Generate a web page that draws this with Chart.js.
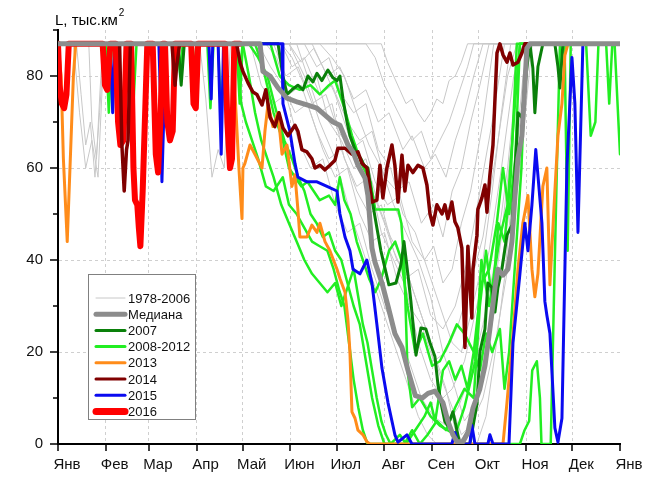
<!DOCTYPE html>
<html>
<head>
    <meta charset="utf-8">
    <title>L, тыс.км2</title>
    <script src="https://cdn.jsdelivr.net/npm/chart.js@4.4.6/dist/chart.umd.min.js"></script>
    <style>
        body { margin: 0; background: #fff; }
        #wrap { width: 659px; height: 478px; position: relative; }
    </style>
</head>
<body>
    <div id="wrap"><canvas id="myChart"></canvas></div>
    <script>
        // x axis: day of year, ticks at month starts
        const monthDays = [0, 31, 59, 90, 120, 151, 181, 212, 243, 273, 304, 334, 365]
        const monthNames = ["Янв", "Фев", "Мар", "Апр", "Май", "Июн", "Июл", "Авг", "Сен", "Окт", "Ноя", "Дек", "Янв"]
        const yLabels = [0, 20, 40, 60, 80]

        const red2016Days = [0, 1, 2.5, 4, 5.5, 7, 29, 30.5, 32, 34, 37.5, 39, 40.5, 42.5, 44.5, 47.5, 49, 50, 51.5, 52.5, 53.5, 55, 58, 61.5, 63.5, 65, 66.5, 68, 69.5, 71, 72.7, 74.5, 76, 86.5, 88, 89.5, 91, 108.5, 110, 111.7, 113, 114.5, 118]
        const red2016Vals = [87, 78, 74, 73, 76, 87, 87, 78, 77, 87, 87, 70, 65, 66, 87, 87, 60, 53, 52, 47, 43, 55, 87, 87, 63, 59, 70, 87, 87, 70, 66, 68, 87, 87, 74, 73, 87, 87, 70, 60, 62, 87, 87]

        const blue2015Days = [0, 34, 35.5, 37, 65.5, 66.5, 67.5, 69, 70, 98, 99.5, 100.5, 104, 106, 107.5, 145.5, 146.1, 150.6, 153.9, 155.8, 161.7, 168.2, 174.7, 181.2, 183.1, 186.4, 189.6, 191.6, 196.1, 200.6, 203.9, 207.1, 210.4, 214.3, 218.8, 220.8, 226.6, 229.9, 255.8, 257.8, 259.7, 267.5, 268.8, 270.8, 279.2, 280.5, 282.5, 292.9, 295.5, 300, 303.2, 305.2, 307.8, 310.3, 314.3, 316.2, 317.5, 319.5, 322.7, 324.7, 327.3, 330.5, 333.8, 335.7, 337.7, 340.9, 365]
        const blue2015Vals = [87, 87, 72, 87, 87, 76, 57, 75, 87, 87, 75, 87, 87, 63, 87, 87, 74, 68, 61, 58, 57, 57, 56, 55, 50, 45, 42, 38, 37, 40, 35, 26, 16.5, 9, 2, 0.4, 2, 0, 0, 2.5, 0, 0, 4, 0, 0, 2, 0, 0, 22, 37, 48, 42, 52, 64, 48, 31, 28, 24, 3.5, 0.4, 5.6, 60, 84, 74, 46, 87, 87]

        const orange2013Days = [0, 2, 3.5, 6, 8, 10, 11.5, 114, 115, 117.5, 119.5, 120.1, 121.4, 124.7, 127.9, 132.5, 134.4, 136.4, 139.6, 142.9, 145.5, 148.7, 151.9, 153.9, 155.8, 157.1, 161.7, 164.9, 168.2, 170.1, 173.4, 176.6, 181.2, 183.1, 186.4, 188.3, 189.6, 190.9, 192.9, 194.8, 198.1, 200.6, 202.6, 289, 291.6, 295.5, 298.7, 301.9, 304.5, 305.2, 307.8, 309.7, 311.7, 314.9, 317.5, 319.5, 322.7, 324.7, 327.3, 329.2, 331.2, 365]
        const orange2013Vals = [87, 80, 62, 44, 62, 80, 87, 87, 76, 60, 49, 60, 61, 65, 63, 60, 68, 74, 69, 72, 63, 65, 56, 58.5, 51, 45, 45, 47.6, 46, 48, 44, 42, 38, 36, 33, 27, 20, 7, 5.6, 3, 2, 0.5, 0, 0, 9, 23.7, 38, 48, 52.6, 54, 38, 32, 37, 56, 60, 34.6, 55, 67, 74, 84.5, 87, 87]

        const brown2014Days = [0, 40, 41.5, 43, 44.5, 45.5, 47, 74, 76, 77, 79, 116, 118.2, 120.1, 123.4, 126.6, 129.2, 132.5, 135, 137.7, 140.9, 143.5, 146.1, 149.4, 153.9, 155.8, 158.4, 161.7, 164.9, 166.9, 170.1, 173.4, 176.6, 179.9, 181.8, 186.4, 190.9, 194.8, 197.4, 200.6, 203.9, 207.1, 209.1, 211, 213.6, 216.9, 218.8, 220.8, 223.4, 225.3, 227.3, 230.5, 233.8, 237, 239.6, 241.6, 243.5, 246.1, 249.4, 251.3, 253.2, 255.8, 257.8, 259.7, 262.3, 264.3, 266.2, 267.5, 268.8, 269.5, 272.1, 272.7, 275.3, 277.3, 278.6, 280.5, 282.5, 285.1, 287, 289, 291.6, 293.5, 295.5, 298.7, 301.3, 303.2, 365]
        const brown2014Vals = [87, 87, 65, 55, 64, 66, 87, 87, 78, 82, 87, 87, 83, 81, 78.5, 76.5, 76, 73.7, 77, 71, 69, 72, 68.7, 67, 69.3, 68, 64, 63.5, 62, 60, 60.6, 59.6, 60.6, 61.7, 64.3, 64.3, 63, 63.5, 61, 60, 52.6, 53, 60.6, 53.5, 60, 65, 60.6, 52.6, 62.8, 55, 60.6, 59, 60.6, 60, 56.3, 50, 47.6, 52, 50, 52, 49, 52.6, 48.3, 47, 42.6, 21, 43, 34.6, 27.4, 38, 45.4, 51, 53.5, 56.3, 50.4, 58.5, 65, 85, 87, 84.6, 83, 85, 82.4, 83, 85, 87, 87]

        const dkgreen2007Days = [0, 78, 80, 82, 142.9, 146.1, 148.7, 151.9, 155.8, 159.1, 162.3, 165.6, 168.2, 171.4, 173.4, 175.3, 178.6, 181.2, 183.1, 185.1, 187.7, 189.6, 193.5, 196.8, 198.7, 201.3, 204.5, 209.7, 214.9, 219.5, 222.7, 224.7, 227.3, 229.2, 232.5, 235.7, 238.9, 241.6, 244.8, 246.8, 248.7, 251.3, 253.2, 256.5, 261, 267.5, 272.1, 274, 277.3, 279.2, 281.8, 283.8, 285.7, 288.3, 291.6, 294.8, 298.1, 298.7, 301.3, 304.5, 306.5, 308.4, 309.7, 311.7, 314.9, 322.7, 324.7, 326, 327.9, 365]
        const dkgreen2007Vals = [87, 87, 78, 87, 87, 80, 76, 77, 78, 77, 80, 78.7, 80.6, 79, 80.2, 81.3, 79.6, 79, 80, 75, 70, 67, 63.5, 62, 60.6, 60, 52, 42, 34.6, 35, 39, 44, 36.7, 31, 19.3, 25.2, 25, 22, 19, 12.8, 9, 4.8, 4, 7, 0, 0, 8.7, 20, 25, 35, 34, 28.7, 34, 38, 45.4, 47.6, 67, 72, 71, 81.7, 87, 81.7, 72, 82, 87, 87, 82, 77.4, 87, 87]

        const medianDays = [0, 131.2, 133.1, 137.7, 142.9, 148.7, 155.8, 161.7, 168.2, 173.4, 178.6, 183.1, 188.3, 191.6, 194.8, 199.4, 201.3, 202.6, 203.9, 205.8, 210.4, 214.3, 218.8, 223.4, 227.3, 232.1, 236.6, 240.3, 244.8, 250, 253.2, 256.5, 259.1, 263, 266.2, 269.5, 274, 277.3, 280.5, 283.8, 285.7, 289, 292.2, 294.8, 296.8, 298.7, 301.3, 303.2, 304.5, 306.5, 365]
        const medianVals = [87, 87, 81, 80, 77.4, 75.2, 74.3, 73.7, 73, 71.5, 70, 69.3, 65, 63.5, 60.6, 57.8, 54, 48.3, 42.6, 39.6, 35, 30, 24, 21, 16, 10.5, 10, 11, 11.5, 9, 5, 2, 0.5, 0.5, 2.5, 7.8, 12, 17, 25, 34, 38, 36.7, 38, 44, 54, 62, 67, 78, 86, 87, 87]

        // 2008-2012
        const greenDays = [
            [0, 31, 33, 35, 78, 79.5, 81, 97, 99, 101, 116, 118, 120, 138, 144, 150, 157, 164, 170, 176, 180, 186, 191, 197, 203, 206, 214, 221, 223, 225, 227, 230, 235, 242, 248, 258, 264, 271, 275, 280, 287, 292, 297, 300, 365],
            [0, 47, 49, 51, 115, 118, 120, 128, 133, 140, 146, 150, 154, 158, 162, 166, 170, 176, 180, 183, 186, 190, 194, 198, 202, 206, 210, 215, 219, 223, 227, 232, 237, 243, 248, 254, 259, 264, 270, 275, 280, 285, 289, 293, 297, 300, 365],
            [0, 116, 119, 122, 126, 130, 135, 140, 146, 150, 155, 160, 165, 170, 175, 179, 183, 186, 189, 192, 195, 198, 201, 300, 303, 306, 308, 311, 313, 314, 320, 322, 324, 326, 365],
            [0, 104, 106, 108, 120, 124, 128, 132, 136, 140, 145, 150, 155, 160, 165, 170, 175, 180, 184, 188, 192, 195, 198, 201, 204, 207, 210, 213, 216, 222, 226, 232, 238, 242, 245, 250, 254, 258, 262, 266, 270, 274, 278, 282, 287, 290, 293, 297, 301, 304, 365],
            [0, 86, 88, 90, 124, 130, 136, 142, 147, 152, 156, 160, 164, 168, 172, 176, 180, 184, 188, 192, 196, 200, 204, 208, 212, 225, 230, 235, 240, 246, 252, 258, 264, 270, 274, 278, 282, 286, 290, 294, 298, 329, 331, 333, 343, 346, 349, 351, 356, 358, 360, 361.5, 365]
        ]
        const greenVals = [
            [87, 87, 72, 87, 87, 80, 87, 87, 73, 87, 87, 74, 87, 87, 80, 78, 77, 78, 76, 78, 79, 73, 67, 61, 57, 51, 51, 51, 48, 38, 16, 8, 10, 6, 4, 2, 8, 18, 40, 30, 45, 52, 75, 87, 87],
            [87, 87, 74, 87, 87, 81, 87, 87, 82, 72, 66, 60, 58, 56, 57, 55, 53, 54, 52, 58, 53, 50, 44, 40, 36, 33, 36, 42, 44, 40, 30, 20, 24, 17, 18, 22, 26, 24, 20, 35, 38, 48, 60, 50, 62, 87, 87],
            [87, 87, 74, 70, 66, 62, 56, 55, 58, 52, 50, 47, 44, 43, 42, 38, 33, 30, 22, 14, 8, 3, 0, 0, 3, 5, 16, 18, 10, 0, 0, 30, 60, 87, 87],
            [87, 87, 70, 87, 87, 80, 72, 66, 62, 58, 52, 48, 44, 40, 37, 35, 33, 35, 30, 34, 38, 32, 26, 22, 16, 10, 5, 2, 0, 2, 0, 3, 6, 9, 5, 16, 18, 14, 17, 12, 20, 16, 24, 20, 25, 12, 20, 40, 60, 87, 87],
            [87, 87, 80, 87, 87, 84, 80, 72, 66, 62, 58, 55, 50, 48, 45, 46, 42, 40, 35, 30, 26, 18, 10, 4, 0, 0, 3, 0, 2, 5, 3, 8, 12, 10, 30, 42, 31, 48, 44, 58, 87, 87, 42, 87, 87, 67, 70, 87, 87, 74, 87, 87, 63]
        ]

        // 1978-2006
        const grayDays = [
            [0, 200, 206, 212, 218, 224, 230, 236, 242, 248, 254, 260, 266, 270, 365],
            [0, 150, 158, 166, 175, 183, 192, 200, 208, 215, 224, 230, 238, 245, 252, 258, 264, 270, 276, 365],
            [0, 20, 22, 25, 27, 29, 145, 152, 160, 170, 178, 188, 196, 204, 212, 220, 228, 236, 244, 250, 256, 262, 268, 274, 280, 365],
            [0, 140, 148, 156, 165, 174, 182, 190, 198, 206, 214, 222, 230, 238, 244, 250, 256, 262, 268, 276, 283, 365],
            [0, 92, 96, 100, 104, 108, 112, 135, 142, 150, 158, 168, 176, 184, 194, 202, 210, 218, 226, 234, 242, 250, 258, 266, 274, 282, 290, 365],
            [0, 130, 138, 146, 154, 162, 172, 180, 188, 196, 204, 212, 220, 228, 236, 244, 252, 260, 268, 276, 284, 292, 298, 365],
            [0, 12, 15, 18, 21, 24, 27, 30, 155, 162, 170, 178, 186, 194, 202, 210, 218, 226, 234, 242, 250, 256, 264, 272, 280, 288, 296, 302, 365],
            [0, 125, 132, 140, 148, 156, 164, 172, 180, 188, 196, 204, 212, 220, 228, 236, 244, 252, 260, 268, 276, 284, 292, 300, 365],
            [0, 10, 14, 18, 22, 26, 30, 160, 168, 176, 184, 192, 200, 208, 216, 224, 232, 240, 248, 256, 262, 268, 276, 282, 288, 294, 365],
            [0, 170, 178, 186, 194, 202, 210, 218, 226, 234, 242, 250, 258, 264, 270, 276, 284, 292, 300, 306, 365],
            [0, 145, 152, 160, 168, 176, 184, 192, 200, 208, 216, 224, 232, 240, 248, 256, 262, 268, 276, 284, 292, 300, 308, 365],
            [0, 210, 214, 218, 222, 226, 230, 234, 238, 242, 246, 250, 254, 258, 262, 266, 365],
            [0, 150, 160, 170, 180, 190, 200, 210, 218, 226, 234, 240, 246, 260, 266, 272, 280, 288, 296, 300, 365],
            [0, 165, 172, 180, 188, 196, 204, 212, 220, 228, 236, 244, 252, 258, 264, 272, 278, 284, 290, 296, 302, 306, 365]
        ]
        const grayVals = [
            [87, 87, 84, 78, 74, 70, 66, 68, 62, 66, 70, 76, 82, 87, 87],
            [87, 87, 83, 86, 80, 82, 75, 77, 70, 72, 64, 67, 60, 63, 58, 66, 72, 80, 87, 87],
            [87, 87, 70, 62, 75, 87, 87, 82, 84, 76, 78, 70, 66, 68, 58, 55, 57, 48, 52, 45, 55, 60, 70, 78, 87, 87],
            [87, 87, 80, 82, 74, 76, 68, 64, 66, 57, 52, 54, 44, 40, 43, 35, 38, 48, 55, 70, 87, 87],
            [87, 87, 75, 58, 64, 60, 87, 87, 84, 76, 78, 68, 62, 64, 55, 50, 52, 42, 36, 38, 28, 25, 30, 40, 55, 70, 87, 87],
            [87, 87, 82, 78, 72, 74, 64, 58, 60, 50, 44, 46, 36, 30, 26, 18, 20, 26, 35, 45, 62, 80, 87, 87],
            [87, 87, 76, 65, 70, 58, 72, 87, 87, 80, 72, 74, 62, 56, 58, 46, 40, 34, 22, 14, 10, 12, 18, 30, 42, 60, 80, 87, 87],
            [87, 87, 78, 74, 76, 66, 60, 62, 52, 46, 48, 38, 30, 24, 18, 10, 6, 4, 8, 15, 26, 40, 60, 87, 87],
            [87, 87, 72, 60, 66, 58, 87, 87, 82, 84, 76, 72, 74, 64, 60, 50, 46, 38, 30, 22, 20, 28, 40, 55, 72, 87, 87],
            [87, 87, 84, 80, 72, 65, 60, 52, 46, 40, 32, 20, 12, 5, 8, 15, 30, 48, 70, 87, 87],
            [87, 87, 84, 78, 80, 70, 66, 60, 62, 52, 45, 40, 32, 24, 15, 8, 2, 4, 10, 22, 38, 60, 87, 87],
            [87, 87, 83, 80, 77, 74, 75, 72, 70, 72, 75, 74, 79, 80, 83, 87, 87],
            [87, 87, 80, 70, 62, 50, 40, 30, 22, 14, 6, 2, 0, 0, 3, 10, 25, 45, 70, 87, 87],
            [87, 87, 82, 76, 68, 60, 55, 48, 40, 36, 28, 20, 12, 3, 0, 0, 6, 20, 36, 58, 80, 87, 87]
        ]

        const COLORS = {
            gray: "#c8c8c8",
            median: "#8c8c8c",
            dkgreen: "#0a800a",
            green: "#22ee22",
            orange: "#ff8c1a",
            brown: "#800000",
            blue: "#0a0af0",
            red: "#ff0000",
        }
        const FONT = '"Liberation Sans", Arial, sans-serif'

        const legendItems = [
            { label: "1978-2006", color: COLORS.gray, width: 1 },
            { label: "Медиана", color: COLORS.median, width: 5 },
            { label: "2007", color: COLORS.dkgreen, width: 3 },
            { label: "2008-2012", color: COLORS.green, width: 3 },
            { label: "2013", color: COLORS.orange, width: 3 },
            { label: "2014", color: COLORS.brown, width: 3 },
            { label: "2015", color: COLORS.blue, width: 3 },
            { label: "2016", color: COLORS.red, width: 7 },
        ]

        // first dataset is drawn on top
        const datasets = []
        function addLine(days, vals, color, width) {
            datasets.push({
                data: days.map((d, i) => ({ x: d, y: vals[i] })),
                borderColor: color,
                borderWidth: width,
                pointRadius: 0,
                fill: false,
                tension: 0,
                borderJoinStyle: "round",
                borderCapStyle: "round",
            })
        }
        addLine(medianDays, medianVals, COLORS.median, 5)
        addLine(brown2014Days, brown2014Vals, COLORS.brown, 3.5)
        addLine(red2016Days, red2016Vals, COLORS.red, 6)
        addLine(blue2015Days, blue2015Vals, COLORS.blue, 3)
        addLine(orange2013Days, orange2013Vals, COLORS.orange, 3)
        addLine(dkgreen2007Days, dkgreen2007Vals, COLORS.dkgreen, 3)
        greenDays.forEach((d, i) => addLine(d, greenVals[i], COLORS.green, 2.5))
        grayDays.forEach((d, i) => addLine(d, grayVals[i], COLORS.gray, 1))

        const decor = {
            id: "decor",
            afterDraw(chart) {
                const { ctx, chartArea: a, scales: { x, y } } = chart
                ctx.save()
                // tick marks
                ctx.strokeStyle = "#000"
                ctx.lineWidth = 1.5
                ctx.beginPath()
                monthDays.forEach(d => {
                    const px = Math.round(x.getPixelForValue(d))
                    ctx.moveTo(px, a.bottom)
                    ctx.lineTo(px, a.bottom + 7)
                })
                for (let v = 0; v <= 90; v += 10) {
                    const py = Math.round(y.getPixelForValue(v))
                    ctx.moveTo(a.left, py)
                    ctx.lineTo(a.left - (v % 20 === 0 ? 8 : 5), py)
                }
                ctx.stroke()
                // axis title
                ctx.fillStyle = "#000"
                ctx.textAlign = "left"
                ctx.textBaseline = "alphabetic"
                ctx.font = "15px " + FONT
                const t = "L, тыс.км"
                ctx.fillText(t, a.left - 3, 25)
                const w = ctx.measureText(t).width
                ctx.font = "10px " + FONT
                ctx.fillText("2", a.left - 2 + w, 16)
                // legend
                const bx = a.left + 30, by = a.top + 244, bw = 107, bh = 145
                ctx.fillStyle = "#fff"
                ctx.fillRect(bx, by, bw, bh)
                ctx.strokeStyle = "#808080"
                ctx.lineWidth = 1
                ctx.strokeRect(bx + 0.5, by + 0.5, bw, bh)
                ctx.font = "13px " + FONT
                ctx.textBaseline = "middle"
                legendItems.forEach((it, i) => {
                    const ly = by + 24 + i * 16.2
                    ctx.strokeStyle = it.color
                    ctx.lineWidth = it.width
                    ctx.lineCap = "round"
                    ctx.beginPath()
                    ctx.moveTo(bx + 8, ly)
                    ctx.lineTo(bx + 37, ly)
                    ctx.stroke()
                    ctx.fillStyle = "#111"
                    ctx.fillText(it.label, bx + 40, ly + 1)
                })
                ctx.restore()
            }
        }

        new Chart(document.getElementById("myChart"), {
            type: "line",
            data: { datasets },
            options: {
                responsive: true,
                maintainAspectRatio: false,
                animation: false,
                layout: { padding: { top: 30, right: 39, left: 0, bottom: 0 } },
                plugins: { legend: { display: false }, tooltip: { enabled: false } },
                scales: {
                    x: {
                        type: "linear",
                        min: 0,
                        max: 365,
                        afterBuildTicks: s => { s.ticks = monthDays.map(v => ({ value: v })) },
                        afterFit: s => { s.height = 34 },
                        ticks: {
                            autoSkip: false,
                            maxRotation: 0,
                            padding: 12,
                            labelOffset: 9,
                            color: "#111",
                            font: { size: 15, family: FONT },
                            callback: (v, i) => monthNames[i],
                        },
                        grid: {
                            color: c => (c.index > 0 && c.index < 12) ? "#cfcfcf" : "transparent",
                            drawTicks: false,
                        },
                        border: { color: "#000", width: 2, dash: [3, 3] },
                    },
                    y: {
                        min: 0,
                        max: 90,
                        afterBuildTicks: s => { s.ticks = yLabels.map(v => ({ value: v })) },
                        afterFit: s => { s.width = 58 },
                        ticks: {
                            padding: 15,
                            color: "#111",
                            font: { size: 15, family: FONT },
                            callback: v => v,
                        },
                        grid: {
                            color: c => (c.tick && c.tick.value > 0) ? "#cfcfcf" : "transparent",
                            drawTicks: false,
                        },
                        border: { color: "#000", width: 2, dash: [3, 3] },
                    },
                },
            },
            plugins: [decor],
        })
    </script>
</body>
</html>
